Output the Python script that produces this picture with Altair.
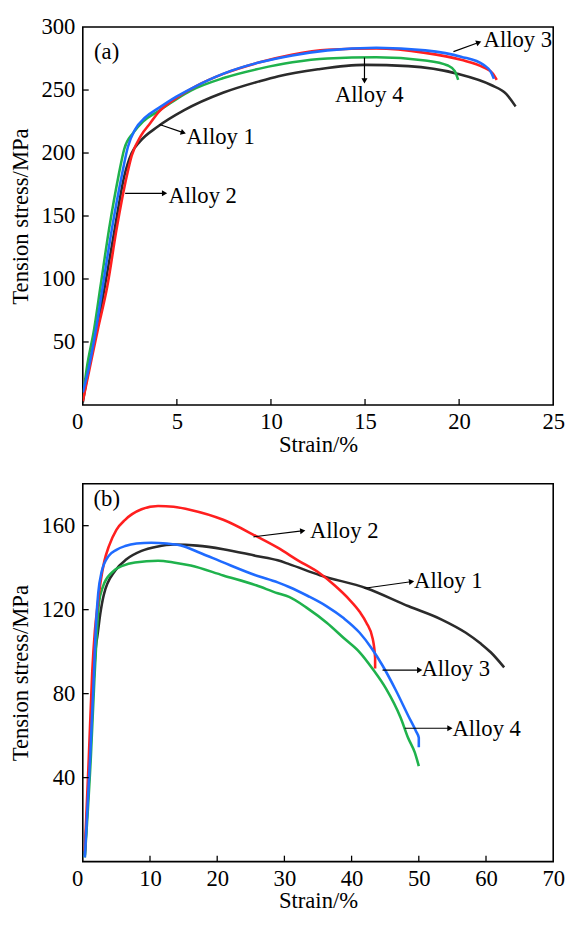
import math
import altair as alt
import pandas as pd

FONT = "Liberation Serif"
FS = 23
W, H = 478, 384

# ---------------- Panel (a) data ----------------
a_x_domain = [0, 25]
a_y_domain = [0, 300]
a_x_labels = [0, 5, 10, 15, 20, 25]
a_y_labels = [50, 100, 150, 200, 250, 300]
a_x_ticks = [5, 10, 15, 20]
a_y_ticks = [50, 100, 150, 200, 250]

a1_x = [0, 0.3, 0.75, 1.17, 1.7, 2.21, 2.6, 3.03, 3.99, 5.39, 7.48, 9.4, 10.4, 12.5, 14.97, 17.3, 19.9, 21.7, 22.5, 23.0]
a1_y = [2, 28, 60, 94, 140, 182, 200, 209, 221, 234, 248, 257, 261, 266.5, 270, 269, 263, 254, 247, 237]
a2_x = [0, 0.35, 0.8, 1.3, 1.8, 2.34, 2.6, 3.1, 3.6, 4.0, 5.0, 6.0, 7.5, 9.4, 11.1, 13.0, 15.6, 18.2, 20.1, 21.3, 21.8, 22.0]
a2_y = [3, 28, 60, 94, 140, 182, 198, 214, 224, 232, 244, 253, 263, 272, 278, 282, 283, 279.5, 274, 268, 263, 258]
a3_x = [0, 0.3, 0.7, 1.06, 1.55, 2.07, 2.4, 2.77, 3.3, 4.0, 5.0, 5.74, 7.48, 9.4, 11.14, 13.0, 15.6, 18.2, 20.1, 21.3, 21.7, 21.85]
a3_y = [10, 28, 60, 94, 140, 182, 205, 218.5, 228, 235.4, 245, 251, 263, 272, 277.5, 281.5, 283.6, 281.5, 276.5, 270, 264, 259]
a4_x = [0, 0.2, 0.6, 0.94, 1.4, 1.9, 2.2, 2.68, 3.2, 3.99, 5.0, 5.74, 7.48, 9.4, 11.14, 13.0, 15.6, 18.2, 19.4, 19.77, 19.95]
a4_y = [5, 28, 60, 94, 140, 182, 203, 216, 225, 233, 243, 249.5, 259.5, 267, 272, 275, 276, 273.5, 269.5, 265, 258]

a_note_text = ["(a)", "Alloy 1", "Alloy 2", "Alloy 3", "Alloy 4"]
a_note_x = [0.6, 5.5, 4.55, 21.3, 13.4]
a_note_y = [280, 213, 166, 290, 246]
a_arrow_x1 = [4.08, 2.25, 19.7, 14.97]
a_arrow_y1 = [222.6, 168, 280.5, 275.8]
a_arrow_x2 = [5.3, 4.3, 21.0, 14.97]
a_arrow_y2 = [216.4, 168, 287.5, 258]

# ---------------- Panel (b) data ----------------
b_x_domain = [0, 70]
b_y_domain = [0, 180]
b_x_labels = [0, 10, 20, 30, 40, 50, 60, 70]
b_y_labels = [40, 80, 120, 160]
b_x_ticks = [10, 20, 30, 40, 50, 60]
b_y_ticks = [40, 80, 120, 160]

b1_x = [0.3, 1.0, 1.5, 2.0, 2.15, 2.6, 3.12, 4.83, 6.5, 8.74, 11.0, 13.6, 17.0, 20.9, 25.8, 29.0, 30.7, 35.3, 42.2, 48.5, 53.4, 57.0, 59.3, 60.7, 62.7]
b1_y = [3, 45, 80, 104, 107, 118, 127, 138.6, 144, 148, 150, 151, 150.5, 148.8, 145.6, 143.5, 141.7, 136.4, 130.2, 121.6, 115.3, 109, 103.6, 99.7, 92.5]
b2_x = [0.3, 0.9, 1.4, 1.8, 2.2, 2.64, 3.2, 3.86, 5.0, 6.3, 8.74, 11.2, 13.5, 16.06, 20.9, 25.8, 29.0, 32.0, 35.3, 37.5, 39.7, 41.2, 42.2, 43.15, 43.5, 43.5]
b2_y = [5, 50, 90, 110, 122, 133, 143, 150, 158, 162.8, 167.8, 169.4, 169, 167.5, 162.8, 155, 149.5, 143.5, 137.2, 131.5, 124.7, 119, 113.8, 106, 97, 92]
b3_x = [0.3, 1.1, 1.6, 2.0, 2.3, 2.8, 3.86, 5.0, 6.3, 8.0, 10.2, 12.5, 14.6, 17.5, 20.9, 25.8, 29.0, 30.7, 33.5, 36.3, 38.8, 41.2, 43.0, 44.6, 46.6, 48.5, 49.6, 50.0, 50.0]
b3_y = [2, 50, 85, 115, 128, 138, 145.6, 148.5, 150.3, 151.5, 151.9, 151.5, 150.6, 147, 142.5, 136.3, 133, 130.8, 126.5, 121.6, 116, 109, 101.5, 93.4, 81.5, 69, 62, 59, 54.5]
b4_x = [0.3, 1.2, 1.7, 2.1, 2.4, 3.0, 4.35, 6.0, 7.76, 11.2, 13.5, 16.06, 20.9, 25.8, 29.0, 30.7, 33.5, 36.3, 39.0, 41.2, 43.2, 45.1, 47.3, 48.4, 49.4, 50.0]
b4_y = [2, 50, 85, 110, 123, 131, 137.8, 141, 142.5, 143.3, 142.5, 141, 136.3, 131.6, 127.8, 126.1, 120.5, 113.8, 106, 99.7, 91.5, 82.5, 68.5, 59, 52, 45.5]

b_note_text = ["(b)", "Alloy 2", "Alloy 1", "Alloy 3", "Alloy 4"]
b_note_x = [1.6, 33.8, 49.3, 50.4, 55.0]
b_note_y = [172.5, 157.5, 133.4, 91.5, 63.3]
b_arrow_x1 = [25.4, 41.9, 44.6, 47.9]
b_arrow_y1 = [154.7, 130.2, 91.2, 63.5]
b_arrow_x2 = [32.6, 48.8, 50.0, 54.5]
b_arrow_y2 = [157.5, 133.3, 91.2, 63.5]

series_names = ["Alloy 1", "Alloy 4", "Alloy 2", "Alloy 3"]  # drawing order
series_colors = {"Alloy 1": "#2b2b2b", "Alloy 2": "#ff1f1f", "Alloy 3": "#1f6bff", "Alloy 4": "#1fb24c"}


def panel(curves, xdom, ydom, xlabels, ylabels, xticks, yticks,
          ntext, nx, ny, ax1, ay1, ax2, ay2):
    xs = alt.Scale(domain=xdom, nice=False, zero=False)
    ys = alt.Scale(domain=ydom, nice=False, zero=False)
    x_axis = alt.Axis(
        values=xlabels, title="Strain/%", grid=False, domain=False, ticks=False,
        labelFlush=False, labelPadding=6, titlePadding=0,
        labelAlign=alt.condition("datum.value == 0", alt.value("right"), alt.value("center")),
    )
    y_axis = alt.Axis(
        values=ylabels, title="Tension stress/MPa", grid=False, domain=False, ticks=False,
        labelFlush=False, labelPadding=8, titlePadding=9,
    )
    X = lambda f: alt.X(f, scale=xs, axis=x_axis)
    Y = lambda f: alt.Y(f, scale=ys, axis=y_axis)
    layers = []
    for name in series_names:
        cx, cy = curves[name]
        df = pd.DataFrame({"strain": cx, "stress": cy, "idx": list(range(len(cx)))})
        layers.append(
            alt.Chart(df).mark_line(color=series_colors[name], strokeWidth=2.6, clip=True,
                                    interpolate="monotone").encode(
                x=X("strain:Q"), y=Y("stress:Q"), order="idx:Q",
            )
        )
    # inward ticks
    xt = pd.DataFrame({"strain": xticks})
    layers.append(
        alt.Chart(xt).mark_rule(color="black", strokeWidth=1.3).encode(
            x=X("strain:Q"), y=alt.value(H), y2=alt.value(H - 6)
        )
    )
    yt = pd.DataFrame({"stress": yticks})
    layers.append(
        alt.Chart(yt).mark_rule(color="black", strokeWidth=1.3).encode(
            y=Y("stress:Q"), x=alt.value(0), x2=alt.value(6)
        )
    )
    # arrows
    xspan = xdom[1] - xdom[0]
    yspan = ydom[1] - ydom[0]
    angles = []
    for a, b, c, d in zip(ax1, ay1, ax2, ay2):
        dx = (c - a) / xspan * W
        dy = (d - b) / yspan * H
        angles.append(math.degrees(math.atan2(dx, dy)) % 360)
    ad = pd.DataFrame({"strain": ax1, "stress": ay1, "strain2": ax2, "stress2": ay2, "angle": angles})
    layers.append(
        alt.Chart(ad).mark_rule(color="black", strokeWidth=1.2).encode(
            x=X("strain:Q"), y=Y("stress:Q"), x2="strain2:Q", y2="stress2:Q",
        )
    )
    layers.append(
        alt.Chart(ad).mark_point(shape="triangle", filled=True, opacity=1, color="black", size=38).encode(
            x=X("strain2:Q"), y=Y("stress2:Q"), angle=alt.Angle("angle:Q", scale=None),
        )
    )
    nd = pd.DataFrame({"strain": nx, "stress": ny, "label": ntext})
    layers.append(
        alt.Chart(nd).mark_text(font=FONT, fontSize=FS, align="left", baseline="middle", color="black").encode(
            x=X("strain:Q"), y=Y("stress:Q"), text="label:N",
        )
    )
    return alt.layer(*layers).properties(width=W, height=H)


panel_a = panel(
    {"Alloy 1": (a1_x, a1_y), "Alloy 2": (a2_x, a2_y), "Alloy 3": (a3_x, a3_y), "Alloy 4": (a4_x, a4_y)},
    a_x_domain, a_y_domain, a_x_labels, a_y_labels, a_x_ticks, a_y_ticks,
    a_note_text, a_note_x, a_note_y, a_arrow_x1, a_arrow_y1, a_arrow_x2, a_arrow_y2,
)
panel_b = panel(
    {"Alloy 1": (b1_x, b1_y), "Alloy 2": (b2_x, b2_y), "Alloy 3": (b3_x, b3_y), "Alloy 4": (b4_x, b4_y)},
    b_x_domain, b_y_domain, b_x_labels, b_y_labels, b_x_ticks, b_y_ticks,
    b_note_text, b_note_x, b_note_y, b_arrow_x1, b_arrow_y1, b_arrow_x2, b_arrow_y2,
)

chart = alt.vconcat(panel_a, panel_b, spacing=26).properties(
    padding={"left": 0, "top": 0, "right": 0, "bottom": 0},
    background="white",
).configure_view(
    stroke="black", strokeWidth=1.6
).configure_axis(
    labelFont=FONT, labelFontSize=FS, labelColor="black",
    titleFont=FONT, titleFontSize=FS, titleFontWeight="normal", titleColor="black",
)

chart.save("out.html", embed_options={"renderer": "svg", "actions": False})
